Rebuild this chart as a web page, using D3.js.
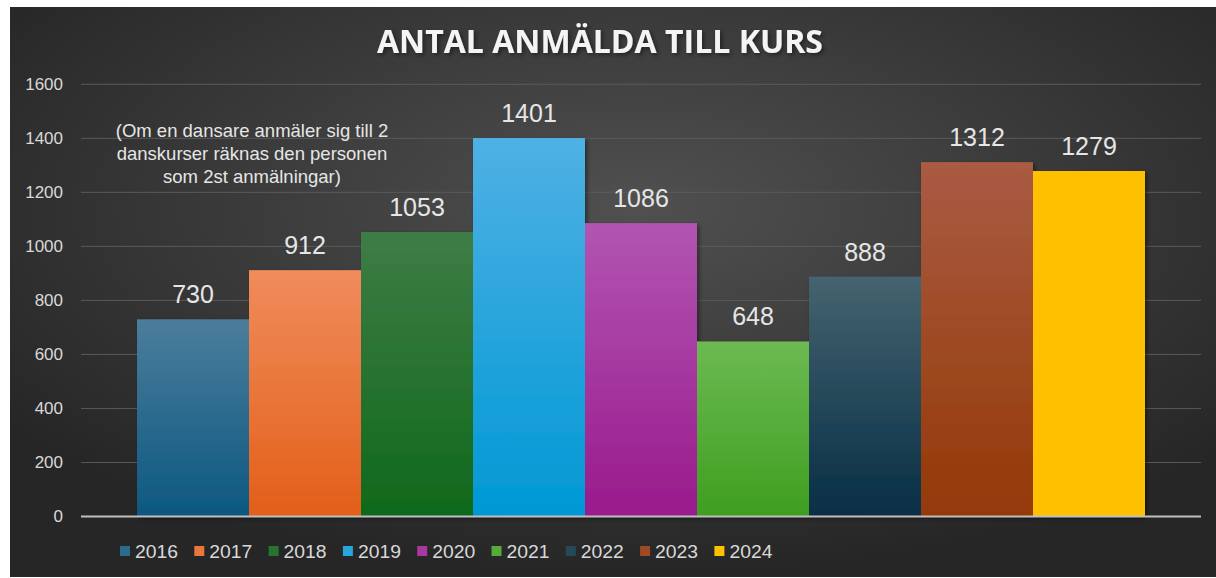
<!DOCTYPE html>
<html>
<head>
<meta charset="utf-8">
<script src="https://cdn.jsdelivr.net/npm/d3@7"></script>
<style>
  html, body { margin: 0; padding: 0; background: #fff; }
  svg { display: block; }
</style>
</head>
<body>
<svg id="chart" width="1216" height="578"></svg>
<script>
// Chart data
const years = ["2016", "2017", "2018", "2019", "2020", "2021", "2022", "2023", "2024"];
const signups = [730, 912, 1053, 1401, 1086, 648, 888, 1312, 1279];
const yTicks = [0, 200, 400, 600, 800, 1000, 1200, 1400, 1600];
const noteLines = [
    "(Om en dansare anmäler sig till 2",
    "danskurser räknas den personen",
    "som 2st anmälningar)"
];
const titleText = "ANTAL ANMÄLDA TILL KURS";

// colours per year: [top, bottom] of the bar gradient
const barColors = [
    ["#4b7d9c", "#0c5880"],
    ["#f08c5c", "#e25f19"],
    ["#3f7c45", "#0f691b"],
    ["#4fb1e4", "#0098d4"],
    ["#b255b2", "#991a8c"],
    ["#6cba52", "#3e9e1f"],
    ["#45636f", "#072e45"],
    ["#a95b43", "#943906"],
    ["#ffc000", "#ffc000"]
];

const svg = d3.select("#chart");
const width = +svg.attr("width");
const height = +svg.attr("height");
const defs = svg.append("defs");

// background
const bg = defs.append("radialGradient")
    .attr("id", "bg")
    .attr("cx", "52%").attr("cy", "35%").attr("r", "65%");
bg.append("stop").attr("offset", "0%").attr("stop-color", "#505050");
bg.append("stop").attr("offset", "100%").attr("stop-color", "#262626");

svg.append("rect")
    .attr("x", 10).attr("y", 7)
    .attr("width", width - 10).attr("height", height - 8)
    .attr("fill", "url(#bg)");

const shadow = defs.append("filter").attr("id", "shadow")
    .attr("x", "-10%").attr("y", "-10%").attr("width", "130%").attr("height", "130%");
shadow.append("feDropShadow")
    .attr("dx", 2).attr("dy", 2).attr("stdDeviation", 2)
    .attr("flood-color", "#000").attr("flood-opacity", 0.45);

barColors.forEach((c, i) => {
    const g = defs.append("linearGradient")
        .attr("id", "bar" + i)
        .attr("x1", 0).attr("y1", 0).attr("x2", 0).attr("y2", 1);
    g.append("stop").attr("offset", "0%").attr("stop-color", c[0]);
    g.append("stop").attr("offset", "100%").attr("stop-color", c[1]);
});

// scales
const x = d3.scaleBand()
    .domain(years)
    .range([81, 1201])
    .paddingInner(0)
    .paddingOuter(0.5);

const y = d3.scaleLinear()
    .domain([0, 1600])
    .range([516.5, 84.3]);

// gridlines
svg.append("g")
    .selectAll("line")
    .data(yTicks.filter(d => d > 0))
    .join("line")
    .attr("x1", 81).attr("x2", 1201)
    .attr("y1", d => y(d)).attr("y2", d => y(d))
    .attr("stroke", "#5a5a5a")
    .attr("stroke-width", 1);

// y axis labels
const yAxis = svg.append("g")
    .attr("transform", "translate(63,0)")
    .call(d3.axisLeft(y).tickValues(yTicks).tickFormat(d3.format("d")).tickSize(0).tickPadding(0));
yAxis.select(".domain").remove();
yAxis.selectAll("text")
    .attr("fill", "#d9d9d9")
    .style("font-family", "'Liberation Sans', Arial, sans-serif")
    .style("font-size", "17px");

// bars
svg.append("g")
    .attr("filter", "url(#shadow)")
    .selectAll("rect")
    .data(signups)
    .join("rect")
    .attr("x", (d, i) => x(years[i]))
    .attr("y", d => y(d))
    .attr("width", x.bandwidth())
    .attr("height", d => y(0) - y(d))
    .attr("fill", (d, i) => `url(#bar${i})`);

// x axis line
svg.append("line")
    .attr("x1", 81).attr("x2", 1201)
    .attr("y1", y(0)).attr("y2", y(0))
    .attr("stroke", "#c0c0c0")
    .attr("stroke-width", 2);

// value labels
svg.append("g")
    .selectAll("text")
    .data(signups)
    .join("text")
    .attr("x", (d, i) => x(years[i]) + x.bandwidth() / 2)
    .attr("y", d => y(d) - 16)
    .attr("text-anchor", "middle")
    .attr("fill", "#e6e6e6")
    .style("font-family", "'Liberation Sans', Arial, sans-serif")
    .style("font-size", "25px")
    .text(d => d);

// title
svg.append("text")
    .attr("x", 600)
    .attr("y", 53)
    .attr("text-anchor", "middle")
    .attr("fill", "#f4f4f4")
    .attr("filter", "url(#shadow)")
    .style("font-family", "'Open Sans', Lato, sans-serif")
    .style("font-weight", "700")
    .style("font-size", "33px")
    .attr("textLength", 446)
    .attr("lengthAdjust", "spacingAndGlyphs")
    .text(titleText);

// note
svg.append("g")
    .selectAll("text")
    .data(noteLines)
    .join("text")
    .attr("x", 252)
    .attr("y", (d, i) => 137 + i * 23)
    .attr("text-anchor", "middle")
    .attr("fill", "#e6e6e6")
    .style("font-family", "'Liberation Sans', Arial, sans-serif")
    .style("font-size", "18.5px")
    .text(d => d);

// legend
const legend = svg.append("g")
    .selectAll("g")
    .data(years)
    .join("g")
    .attr("transform", (d, i) => `translate(${120 + i * 74.3},551)`);

legend.append("rect")
    .attr("x", 0).attr("y", -5)
    .attr("width", 10).attr("height", 10)
    .attr("fill", (d, i) => d3.interpolateRgb(barColors[i][0], barColors[i][1])(0.5));

legend.append("text")
    .attr("x", 15)
    .attr("y", 7)
    .attr("fill", "#d9d9d9")
    .attr("textLength", 43)
    .attr("lengthAdjust", "spacingAndGlyphs")
    .style("font-family", "'Liberation Sans', Arial, sans-serif")
    .style("font-size", "18px")
    .text(d => d);
</script>
</body>
</html>
